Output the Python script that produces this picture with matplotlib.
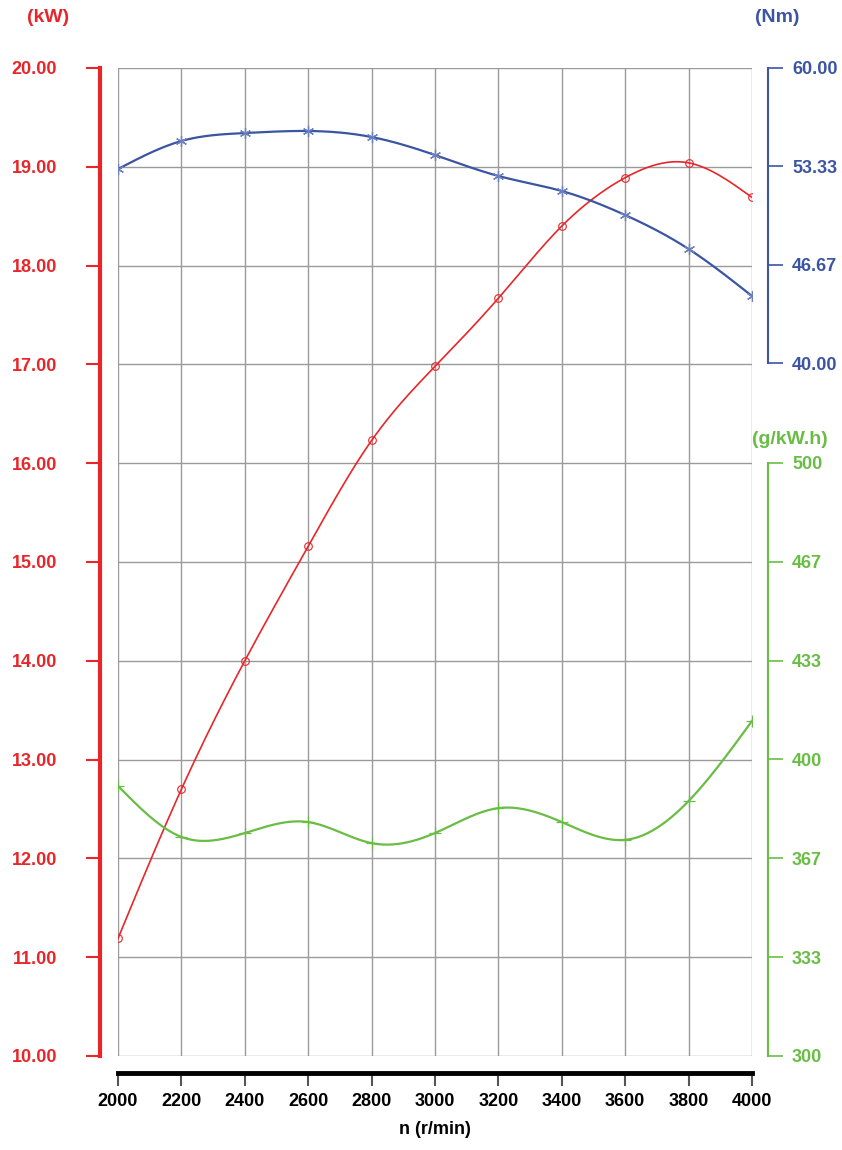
"""
发动机外特性曲线：功率 / 扭矩 / 比油耗
"""

import numpy as np
import matplotlib
matplotlib.use('Agg')
import matplotlib.pyplot as plt

plt.rcParams['font.family'] = ['Liberation Sans', 'DejaVu Sans']
plt.rcParams['font.weight'] = 'bold'

# 数据
speed = [2000, 2200, 2400, 2600, 2800, 3000, 3200, 3400, 3600, 3800, 4000]
power_kw = [11.19, 12.70, 14.00, 15.16, 16.23, 16.98, 17.67, 18.40, 18.89, 19.04, 18.69]
torque_nm = [53.15, 55.05, 55.59, 55.73, 55.32, 54.10, 52.68, 51.66, 50.03, 47.73, 44.54]
bsfc = [391.1, 373.9, 375.2, 378.9, 371.8, 375.2, 383.6, 378.9, 372.9, 386.0, 413.0]

x_ticks = [2000, 2200, 2400, 2600, 2800, 3000, 3200, 3400, 3600, 3800, 4000]
power_ticks = [10, 11, 12, 13, 14, 15, 16, 17, 18, 19, 20]
torque_ticks = [40, 46.667, 53.333, 60]
bsfc_ticks = [300, 333.33, 366.67, 400, 433.33, 466.67, 500]

RED = '#e8262a'
BLUE = '#3b55a3'
GREEN = '#69bd45'
GRID = '#9a9a9a'
PX = 72 / 100  # 像素 -> 磅


def natural_spline(x, y, n=400):
    """自然三次样条插值（平滑曲线）"""
    x = np.asarray(x, float)
    y = np.asarray(y, float)
    k = len(x)
    h = np.diff(x)
    A = np.zeros((k, k))
    b = np.zeros(k)
    A[0, 0] = A[-1, -1] = 1
    for i in range(1, k - 1):
        A[i, i - 1] = h[i - 1]
        A[i, i] = 2 * (h[i - 1] + h[i])
        A[i, i + 1] = h[i]
        b[i] = 6 * ((y[i + 1] - y[i]) / h[i] - (y[i] - y[i - 1]) / h[i - 1])
    m = np.linalg.solve(A, b)
    xs = np.linspace(x[0], x[-1], n)
    idx = np.clip(np.searchsorted(x, xs) - 1, 0, k - 2)
    x0, x1 = x[idx], x[idx + 1]
    hh = x1 - x0
    t0, t1 = x1 - xs, xs - x0
    ys = (m[idx] * t0 ** 3 + m[idx + 1] * t1 ** 3) / (6 * hh) \
        + (y[idx] / hh - m[idx] * hh / 6) * t0 \
        + (y[idx + 1] / hh - m[idx + 1] * hh / 6) * t1
    return xs, ys


fig = plt.figure(figsize=(8.42, 11.5), dpi=100)
W, H = 842, 1150
ax = fig.add_axes([118 / W, 1 - 1056 / H, (752 - 118) / W, (1056 - 68) / H])

# 主坐标：功率
ax.set_xlim(2000, 4000)
ax.set_ylim(10, 20)
ax.set_xticks(x_ticks)
ax.set_yticks(power_ticks)
ax.set_yticklabels([f'{v:.2f}' for v in power_ticks])
ax.grid(True, color=GRID, linewidth=1.0)
for line in ax.get_xgridlines() + ax.get_ygridlines():
    line.set_clip_on(False)
ax.set_axisbelow(True)

ax.spines['top'].set_visible(False)
ax.spines['right'].set_visible(False)
ax.spines['left'].set_position(('outward', 18 * PX))
ax.spines['left'].set_color(RED)
ax.spines['left'].set_linewidth(3)
ax.spines['bottom'].set_position(('outward', 17 * PX))
ax.spines['bottom'].set_color('black')
ax.spines['bottom'].set_linewidth(3.5)
ax.tick_params(axis='y', colors=RED, direction='out', length=14 * PX, width=1.5,
               pad=29 * PX, labelsize=13)
ax.tick_params(axis='x', colors='#555555', labelcolor='black', direction='out',
               length=13 * PX, width=1.5, pad=7 * PX, labelsize=13)
ax.set_xlabel('n (r/min)', fontsize=13, fontweight='bold', labelpad=8)

xs, ys = natural_spline(speed, power_kw)
ax.plot(xs, ys, color=RED, linewidth=1.2, zorder=3)
ax.plot(speed, power_kw, linestyle='none', marker='o', markersize=5.5,
        markerfacecolor='none', markeredgecolor=RED, markeredgewidth=0.8, zorder=4)

# 扭矩坐标
ax_t = ax.twinx()
span_t = 20 * 988 / 295
ax_t.set_ylim(60 - span_t, 60)
ax_t.set_yticks(torque_ticks)
ax_t.set_yticklabels([f'{v:.2f}' for v in torque_ticks])
for s in ['top', 'left', 'bottom']:
    ax_t.spines[s].set_visible(False)
ax_t.spines['right'].set_position(('outward', 16 * PX))
ax_t.spines['right'].set_bounds(40, 60)
ax_t.spines['right'].set_color(BLUE)
ax_t.spines['right'].set_linewidth(1.5)
ax_t.tick_params(axis='y', colors=BLUE, direction='out', length=15 * PX, width=1.2,
                 pad=9 * PX, labelsize=13)
xs, ys = natural_spline(speed, torque_nm)
ax_t.plot(xs, ys, color=BLUE, linewidth=1.6, zorder=3)
ax_t.plot(speed, torque_nm, linestyle='none', marker=(6, 2, 0), markersize=8,
          markeredgecolor='#6b80bf', markeredgewidth=0.9, zorder=4)

# 比油耗坐标
ax_b = ax.twinx()
span_b = 200 * 988 / 593
ax_b.set_ylim(300, 300 + span_b)
ax_b.set_yticks(bsfc_ticks)
ax_b.set_yticklabels([f'{v:.0f}' for v in bsfc_ticks])
for s in ['top', 'left', 'bottom']:
    ax_b.spines[s].set_visible(False)
ax_b.spines['right'].set_position(('outward', 16 * PX))
ax_b.spines['right'].set_bounds(300, 500)
ax_b.spines['right'].set_color(GREEN)
ax_b.spines['right'].set_linewidth(1.5)
ax_b.tick_params(axis='y', colors=GREEN, direction='out', length=15 * PX, width=1.2,
                 pad=9 * PX, labelsize=13)
xs, ys = natural_spline(speed, bsfc)
ax_b.plot(xs, ys, color=GREEN, linewidth=1.6, zorder=3)
ax_b.plot(speed, bsfc, linestyle='none', marker='+', markersize=9,
          markeredgecolor=GREEN, markeredgewidth=0.9, zorder=4)

# 单位标注
fig.text(48 / W, 1 - 18 / H, '(kW)', color=RED, fontsize=14, fontweight='bold',
         ha='center', va='center')
fig.text(777 / W, 1 - 18 / H, '(Nm)', color=BLUE, fontsize=14, fontweight='bold',
         ha='center', va='center')
fig.text(790 / W, 1 - 440 / H, '(g/kW.h)', color=GREEN, fontsize=14, fontweight='bold',
         ha='center', va='center')

fig.savefig('out.png', dpi=100, facecolor='white')
